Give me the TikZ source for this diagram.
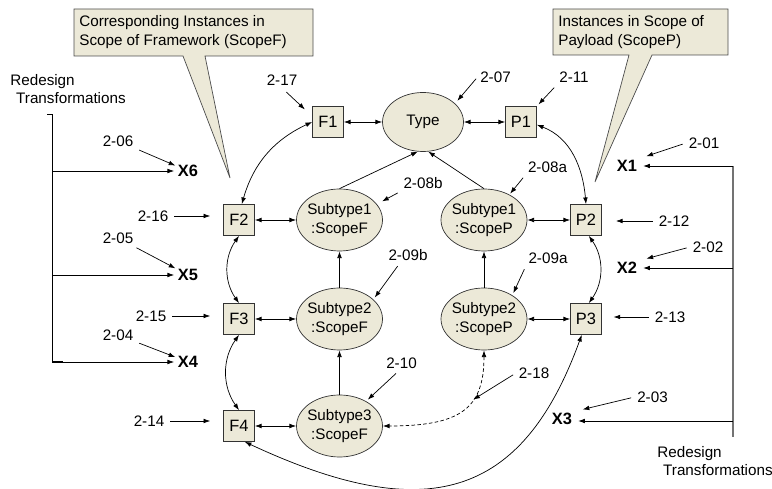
\documentclass[tikz,border=0pt]{standalone}
\usepackage{fontspec}
\setmainfont{Liberation Sans}
\usetikzlibrary{shapes.geometric,arrows.meta}
\definecolor{shade}{RGB}{236,233,216}

\begin{document}
\begin{tikzpicture}[x=0.03cm,y=0.03cm,line width=0.6pt,
		arr/.style={-{Latex[length=2mm,width=1.4mm]}},
		darr/.style={{Latex[length=2mm,width=1.4mm]}-{Latex[length=2mm,width=1.4mm]}},
		ptr/.style={arr,shorten <=3pt},
		inst/.style={draw=black!80,fill=shade,minimum size=0.93cm,inner sep=0pt,font=\fontsize{14}{16}\selectfont},
		kind/.style={ellipse,draw=black!80,fill=shade,minimum width=2.58cm,minimum height=1.86cm,inner xsep=-2pt,inner ysep=0pt,align=center,font=\fontsize{13}{16}\selectfont},
		num/.style={inner sep=2pt,font=\fontsize{13}{15}\selectfont},
		xf/.style={inner sep=1pt,font=\bfseries\fontsize{14}{16}\selectfont},
		note/.style={draw=black!70,fill=shade},
		notetext/.style={anchor=west,align=left,inner sep=0pt,font=\fontsize{13}{16.2}\selectfont}]
	\useasboundingbox (0,0) rectangle (772,-489);
	
	\draw[note] (74,-9) -- (313,-9) -- (313,-56) -- (205,-56) -- (230,-178) -- (183,-56) -- (74,-56) -- cycle;
	\node[notetext] (nF) at (79,-32) {Corresponding Instances in\\Scope of Framework (ScopeF)};
	\draw[note] (553,-9) -- (728,-9) -- (728,-55) -- (652,-55) -- (595,-182) -- (629,-55) -- (553,-55) -- cycle;
	\node[notetext] (nP) at (558,-32) {Instances in Scope of\\Payload (ScopeP)};
	
	\node[notetext,font=\fontsize{13}{15.4}\selectfont] (rdL) at (10,-89) {Redesign\\\hspace*{5pt}Transformations};
	\node[notetext,font=\fontsize{13}{15.4}\selectfont] (rdR) at (657,-461) {Redesign\\\hspace*{5pt}Transformations};
	
	\node[kind,minimum width=2.43cm,minimum height=1.77cm] (Type) at (423,-122) {Type};
	\node[inst] (F1) at (328,-122) {F1};
	\node[inst] (F2) at (239,-220) {F2};
	\node[inst] (F3) at (239,-319) {F3};
	\node[inst] (F4) at (239,-426) {F4};
	\node[inst] (P1) at (521,-122) {P1};
	\node[inst] (P2) at (586,-220) {P2};
	\node[inst] (P3) at (586,-319) {P3};
	\node[kind] (S1F) at (339.5,-220) {Subtype1\\:ScopeF};
	\node[kind] (S2F) at (339.5,-319) {Subtype2\\:ScopeF};
	\node[kind] (S3F) at (339.5,-426) {Subtype3\\:ScopeF};
	\node[kind] (S1P) at (484,-220) {Subtype1\\:ScopeP};
	\node[kind] (S2P) at (484,-319) {Subtype2\\:ScopeP};
	
	\node[xf] (X1) at (627,-166) {X1};
	\node[xf] (X2) at (627,-268) {X2};
	\node[xf] (X3) at (562,-419) {X3};
	\node[xf] (X4) at (188,-362) {X4};
	\node[xf] (X5) at (188,-275) {X5};
	\node[xf] (X6) at (188,-171) {X6};
	
	\node[num] (l01) at (704,-143) {2-01};
	\node[num] (l02) at (708,-247) {2-02};
	\node[num] (l03) at (652.5,-397) {2-03};
	\node[num] (l04) at (118,-335) {2-04};
	\node[num] (l05) at (118,-238) {2-05};
	\node[num] (l06) at (118,-141) {2-06};
	\node[num] (l07) at (495.5,-77) {2-07};
	\node[num] (l08a) at (547.5,-167) {2-08a};
	\node[num] (l08b) at (423,-183) {2-08b};
	\node[num] (l09a) at (548,-258) {2-09a};
	\node[num] (l09b) at (408,-255) {2-09b};
	\node[num] (l10) at (401.5,-363) {2-10};
	\node[num] (l11) at (574,-77) {2-11};
	\node[num] (l12) at (674,-221) {2-12};
	\node[num] (l13) at (670,-317) {2-13};
	\node[num] (l14) at (149,-421) {2-14};
	\node[num] (l15) at (151,-316) {2-15};
	\node[num] (l16) at (153,-216) {2-16};
	\node[num] (l17) at (282,-80) {2-17};
	\node[num] (l18) at (534,-373) {2-18};
	
	\draw[darr] (F1) -- (Type);
	\draw[darr] (Type) -- (P1);
	\draw[darr] (F2) -- (S1F);
	\draw[darr] (F3) -- (S2F);
	\draw[darr] (F4) -- (S3F);
	\draw[darr] (S1P) -- (P2);
	\draw[darr] (S2P) -- (P3);
	\draw[arr] (S2F) -- (S1F);
	\draw[arr] (S3F) -- (S2F);
	\draw[arr] (S2P) -- (S1P);
	\draw[arr] (S1F.north) -- (Type.-100);
	\draw[arr] (S1P.north) -- (Type.-80);
	\draw[darr] (F2.80) to[out=74,in=205] (F1.west);
	\draw[darr] (P1.-10) to[out=-21,in=95] (P2.north);
	\draw[darr] (F2.south) to[out=-125,in=125] (F3.north);
	\draw[darr] (F3.south) to[out=-125,in=125] (F4.north);
	\draw[darr] (P2.-80) to[out=-55,in=55] (P3.80);
	\draw[darr] (F4.-70) .. controls +(-25:200) and +(-110:175) .. (P3.-105);
	\draw[darr,dash pattern=on 3pt off 2pt] (S2P.south) .. controls +(0,-58) and +(78,0) .. (S3F.east) coordinate[pos=0.38] (d18);
	
	\coordinate (lt) at (52,-114);
	\coordinate (lb) at (52,-361);
	\draw (47,-114) -- (lt) -- (lb) -- (63,-361);
	\draw[arr,shorten >=2pt] (lt |- X6) -- (X6);
	\draw[arr,shorten >=2pt] (lt |- X5) -- (X5);
	\draw[arr,shorten >=2pt] (lt |- X4) -- (X4);
	\coordinate (rt) at (733,-166);
	\coordinate (rb) at (733,-437);
	\draw[black!55,line width=0.9pt] (rt) -- (rb);
	\draw[arr,shorten >=4pt] (rt) -- (X1);
	\draw[arr,shorten >=4pt] (rt |- X2) -- (X2);
	\draw[arr,shorten >=4pt] (733,-421) -- (X3.east |- 0,-421);
	
	\draw[ptr,shorten >=1pt] (l06) -- (X6);
	\draw[ptr,shorten >=1pt] (l05) -- (X5);
	\draw[ptr,shorten >=1pt] (l04) -- (X4);
	\draw[ptr,shorten >=11pt] (l16) -- (l16 -| F2.west);
	\draw[ptr,shorten >=11pt] (l15) -- (l15 -| F3.west);
	\draw[ptr,shorten >=11pt] (l14) -- (l14 -| F4.west);
	\draw[ptr,shorten <=5pt,shorten >=8.5pt] (l17.south) -- (F1.160);
	\draw[ptr,shorten <=2pt,shorten >=3pt] (l07.west) -- (Type.30);
	\draw[ptr,shorten >=2pt] (l11.south west) -- (P1.north east);
	\draw[ptr,shorten >=1pt] (l08a.south west) -- (S1P.45);
	\draw[ptr,shorten >=5pt] (l08b.south west) -- (S1F.23);
	\draw[ptr,shorten >=12pt] (l12) -- (l12 -| P2.east);
	\draw[ptr,shorten >=10pt] (l13) -- (l13 -| P3.east);
	\draw[ptr,shorten >=7pt] (l01.west) -- (X1.north east);
	\draw[ptr,shorten >=7pt] (l02.west) -- (X2.north east);
	\draw[ptr,shorten >=8pt] (l03.west) -- (X3.north east);
	\draw[ptr,shorten >=2pt] (l09a.south west) -- (S2P.40);
	\draw[ptr,shorten >=2pt] (l09b.225) -- (S2F.30);
	\draw[ptr,shorten >=2pt] (l10.250) -- (S3F.43);
	\draw[ptr,shorten >=1pt] (l18.west) -- (d18);
\end{tikzpicture}
\end{document}
